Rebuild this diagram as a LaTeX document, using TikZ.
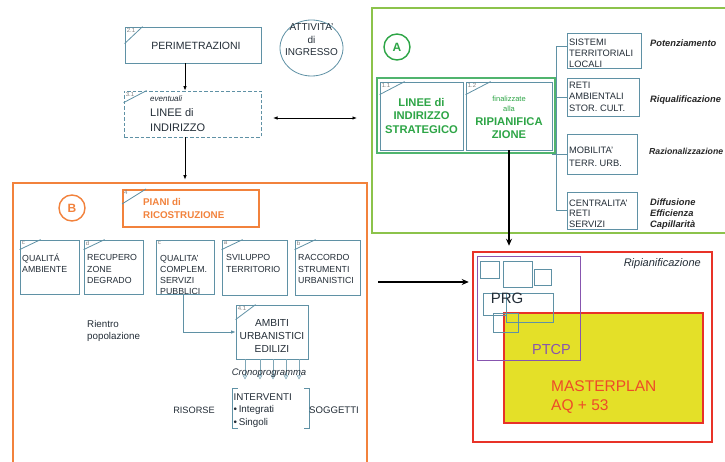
\documentclass[tikz,border=0pt]{standalone}
\usepackage{fontspec}
\setmainfont{Liberation Sans}
\usetikzlibrary{fit,arrows.meta,shapes.geometric,calc}
\definecolor{bxc}{RGB}{95,145,165}
\definecolor{txc}{RGB}{35,45,55}
\definecolor{grL}{RGB}{140,195,75}
\definecolor{grT}{RGB}{45,165,70}
\definecolor{grB}{RGB}{80,180,110}
\definecolor{orC}{RGB}{242,130,60}
\definecolor{rdC}{RGB}{232,50,40}
\definecolor{puC}{RGB}{135,85,175}
\definecolor{yeC}{RGB}{228,224,40}
\definecolor{mpT}{RGB}{238,75,40}
\newcommand\cornerlab[4]{%
  \draw[bxl] ([yshift=-#3pt]#1.north west) -- ([xshift=#2pt]#1.north west);
  \node[lab] (#1-lab) at ([xshift=2pt,yshift=-1.5pt]#1.north west) {#4};}
\tikzset{
  bx/.style={draw=bxc, line width=0.8pt, inner sep=0pt, rectangle},
  bxl/.style={draw=bxc, line width=0.8pt},
  fr/.style={inner sep=0pt, rectangle},
  lab/.style={font=\fontsize{6}{6}\selectfont, text=gray, anchor=north west, inner sep=0pt},
  t/.style={text=txc, inner sep=0pt, anchor=west},
  arr/.style={-{Latex[length=4.5pt,width=3.5pt]}, line width=0.8pt, black},
  dbl/.style={{Latex[length=4.5pt,width=3.5pt]}-{Latex[length=4.5pt,width=3.5pt]}, line width=0.8pt, black},
  cron/.style={-{Triangle[open,length=4pt,width=4.5pt]}, draw=bxc!80, line width=0.6pt},
  rowt/.style={t, align=left, font=\fontsize{8.8}{11.3}\selectfont},
  colt/.style={t, align=left, font=\fontsize{9.3}{11}\selectfont},
  rlab/.style={t, text=black!85, align=left, font=\fontsize{9.3}{11}\selectfont\bfseries\itshape},
}
\begin{document}
\begin{tikzpicture}[x=1pt,y=-1pt]
\useasboundingbox (0,0) rectangle (725,462);
\fill[white] (0,0) rectangle (725,462);

% ---------- top left chain ----------
\node[bx, fit={(125,27) (261,63)}] (p21) {};
\cornerlab{p21}{18}{17}{2.1}
\node[t, anchor=center, font=\fontsize{10.5}{12}\selectfont] (p21t) at (196,46) {PERIMETRAZIONI};

\node[draw=bxc, line width=0.8pt, ellipse, minimum width=63pt, minimum height=56pt, inner sep=0pt] (att) at (311.5,48) {};
\node[t, anchor=center, align=center, font=\fontsize{10}{12.5}\selectfont] (attt) at (311.5,40) {ATTIVITA'\\di\\INGRESSO};

\node[bx, dashed, dash pattern=on 3.5pt off 2pt, fit={(124,91) (261,137)}] (d31) {};
\cornerlab{d31}{23}{12}{3.1}
\node[t, font=\fontsize{8}{9}\selectfont\itshape] (d31e) at (150,99) {eventuali};
\node[t, align=left, font=\fontsize{11}{15}\selectfont] (d31t) at (150,120) {LINEE di\\INDIRIZZO};

\coordinate (ax) at (185,0);
\coordinate (dl) at (273,118);
\coordinate (dr) at (357,118);
\draw[arr] (ax |- p21.south) -- (ax |- d31.north);
\draw[dbl] (dl) -- (dr);

% ---------- box A ----------
\node[fr, draw=grL, line width=2pt, fit={(372,8) (729,233)}] (A) {};
\node[circle, draw=grT, line width=1.4pt, minimum size=26pt, inner sep=0pt, text=grT, font=\fontsize{12}{12}\selectfont\bfseries] (Ac) at (397,47) {A};

\node[fr, draw=grB, line width=1.2pt, fit={(377,78) (555,153)}] (g11) {};
\node[bx, fit={(380,82) (463,150)}] (b11) {};
\node[bx, fit={(466,82) (552,150)}] (b12) {};
\cornerlab{b11}{25}{13}{1.1}
\cornerlab{b12}{25}{13}{1.2}
\node[t, anchor=center, align=center, text=grT, font=\fontsize{11.2}{13.5}\selectfont\bfseries] (b11t) at (421.5,115.5) {LINEE di\\INDIRIZZO\\STRATEGICO};
\node[t, anchor=center, align=center, text=grT, font=\fontsize{7.5}{10}\selectfont] (b12a) at (509,104) {finalizzate\\alla};
\node[t, anchor=center, align=center, text=grT, font=\fontsize{11.2}{12.5}\selectfont\bfseries] (b12b) at (509,128) {RIPIANIFICA\\ZIONE};

\node[bx, fit={(567,33) (641,68)}] (s1) {};
\node[bx, fit={(567,78) (639,116)}] (s2) {};
\node[bx, fit={(567,134) (637,174)}] (s3) {};
\node[bx, fit={(567,192) (637,229)}] (s4) {};
\node[colt] (s1t) at (569,53) {SISTEMI\\TERRITORIALI\\LOCALI};
\node[colt, font=\fontsize{9.3}{11.5}\selectfont] (s2t) at (569,96.5) {RETI\\AMBIENTALI\\STOR. CULT.};
\node[colt, font=\fontsize{9.3}{13}\selectfont] (s3t) at (569,156.5) {MOBILITA'\\TERR. URB.};
\node[colt, font=\fontsize{9.3}{10.5}\selectfont] (s4t) at (569,213.5) {CENTRALITA'\\RETI\\SERVIZI};

\coordinate (vb) at (556,0);
\draw[bxl] ([yshift=4.5pt]s1.west) -| (vb |- s4.west) -- (s4.west);
\draw[bxl] (s2.west) -- (s2.west -| vb);
\draw[bxl] (s3.west) -- ([xshift=-4pt]s3.west -| vb);

\node[rlab] (l1) at (650,43) {Potenziamento};
\node[rlab] (l2) at (650,100) {Riqualificazione};
\node[rlab, font=\fontsize{8.7}{11}\selectfont\bfseries\itshape] (l3) at (649,151) {Razionalizzazione};
\node[rlab] (l4) at (650,214) {Diffusione\\Efficienza\\Capillarità};

% ---------- box B ----------
\node[fr, draw=orC, line width=2.5pt, fit={(13,183) (367,470)}] (B) {};
\draw[arr] (ax |- d31.south) -- ([yshift=2pt]ax |- B.north);
\node[circle, draw=orC, line width=1.4pt, minimum size=26pt, inner sep=0pt, text=orC, font=\fontsize{12}{12}\selectfont\bfseries] (Bc) at (72,208) {B};

\node[fr, draw=orC, line width=2pt, fit={(123,190) (259,227)}] (p4) {};
\cornerlab{p4}{24}{15}{4}
\node[t, text=orC, align=left, font=\fontsize{9.8}{13}\selectfont\bfseries] (p4t) at (143,208.5) {PIANI di\\RICOSTRUZIONE};

\node[bx, fit={(20,240) (79,294)}] (r1) {};
\node[bx, fit={(84,240) (143,294)}] (r2) {};
\node[bx, fit={(156,240) (214,294)}] (r3) {};
\node[bx, fit={(222,240) (287,295)}] (r4) {};
\node[bx, fit={(295,240) (360,295)}] (r5) {};
\cornerlab{r1}{21}{10}{c}
\cornerlab{r2}{21}{10}{d}
\node[lab] (r3-lab) at ([xshift=2pt,yshift=-1.5pt]r3.north west) {c};
\cornerlab{r4}{21}{10}{a}
\cornerlab{r5}{21}{10}{b}
\node[rowt] (r1t) at (22,263.5) {QUALITÁ\\AMBIENTE};
\node[rowt] (r2t) at (87,269) {RECUPERO\\ZONE\\DEGRADO};
\node[rowt] (r3t) at (160,275) {QUALITA'\\COMPLEM.\\SERVIZI\\PUBBLICI};
\node[rowt] (r4t) at (226,263.5) {SVILUPPO\\TERRITORIO};
\node[rowt] (r5t) at (298,269) {RACCORDO\\STRUMENTI\\URBANISTICI};

\node[bx, fit={(236,305) (308,359)}] (amb) {};
\cornerlab{amb}{20}{15}{4.1}
\node[t, anchor=center, align=center, font=\fontsize{10.2}{13}\selectfont] (ambt) at (272,336) {AMBITI\\URBANISTICI\\EDILIZI};
\draw[bxl, arr, draw=bxc] ([xshift=-2pt]r3.south) |- (amb.west);

\node[t, align=left, font=\fontsize{9.8}{12}\selectfont] (rp) at (87,331) {Rientro\\popolazione};

\foreach \xx in {245,260,273,286,299} \draw[cron] (amb.south -| \xx,0) -- ++(0,20);
\node[t, anchor=center, font=\fontsize{9.5}{10}\selectfont\itshape] (cr) at (269,373) {Cronoprogramma};

\node[fr, fit={(233,389) (309,428)}] (intv) {};
\draw[bxl] ([xshift=5pt]intv.north west) -| (intv.south west) -- ++(5,0);
\draw[bxl] ([xshift=-5pt]intv.north east) -| (intv.south east) -- ++(-5,0);
\node[t, align=left, font=\fontsize{9.8}{12.5}\selectfont] (intvt) at (233.5,410.5) {INTERVENTI\\•\,Integrati\\•\,Singoli};
\node[t, anchor=center, font=\fontsize{9.2}{10}\selectfont] (ris) at (194,410) {RISORSE};
\node[t, font=\fontsize{9.6}{10}\selectfont] (sog) at (309,410) {SOGGETTI};

% ---------- Ripianificazione ----------
\node[fr, draw=rdC, line width=2.5pt, fit={(473,252) (712,442)}] (red) {};
\draw[arr, line width=1.4pt, -{Stealth[length=7pt,width=6pt]}] (b12.south) -- ([yshift=5pt]b12.south |- red.north);
\coordinate (ar1) at (378,282);
\draw[arr, line width=1.2pt, -{Stealth[length=7pt,width=6pt]}] (ar1) -- ([xshift=-3pt]ar1 -| red.west);

\node[t, anchor=east, font=\fontsize{11}{12}\selectfont\itshape] (rip) at (701,264) {Ripianificazione};
\node[fr, draw=rdC, fill=yeC, line width=2pt, fit={(504,313) (703,423)}] (mp) {};
\node[t, text=mpT, align=left, font=\fontsize{15.5}{19}\selectfont] (mpt) at (551,397.5) {MASTERPLAN\\AQ + 53};
\node[fr, draw=puC, line width=1pt, fit={(477,257) (580,360)}] (ptcp) {};
\node[bx, fit={(480,261) (499,278)}] (sb1) {};
\node[bx, fit={(503,261) (532,287)}] (sb2) {};
\node[bx, fit={(534,269) (551,285)}] (sb3) {};
\node[bx, fit={(483,293) (506,315)}] (sb4) {};
\node[bx, fit={(506,293) (553,322)}] (sb5) {};
\node[bx, fit={(493,313) (518,332)}] (sb6) {};
\node[t, anchor=center, font=\fontsize{15}{15}\selectfont] (prg) at (507,298) {PRG};
\node[t, anchor=center, text=puC, font=\fontsize{14.5}{15}\selectfont] (ptcpt) at (551.5,349.5) {PTCP};
\end{tikzpicture}
\end{document}
